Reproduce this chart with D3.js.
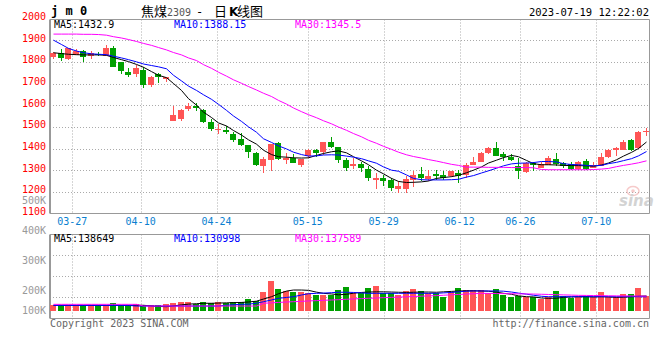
<!DOCTYPE html>
<html><head><meta charset="utf-8">
<script src="https://cdnjs.cloudflare.com/ajax/libs/d3/7.8.5/d3.min.js"></script>
<style>html,body{margin:0;padding:0;background:#fff;} svg{display:block;}</style>
</head><body><svg id="c" width="660" height="360"></svg>
<script>
const dates = ["03-22","03-23","03-24","03-27","03-28","03-29","03-30","03-31","04-03","04-04","04-06","04-07",
"04-10","04-11","04-12","04-13","04-14","04-17","04-18","04-19","04-20","04-21","04-24","04-25","04-26","04-27","04-28",
"05-04","05-05","05-08","05-09","05-10","05-11","05-12","05-15","05-16","05-17","05-18","05-19","05-22","05-23","05-24","05-25","05-26",
"05-29","05-30","05-31","06-01","06-02","06-05","06-06","06-07","06-08","06-09","06-12","06-13","06-14","06-15","06-16","06-19","06-20","06-21",
"06-26","06-27","06-28","06-29","06-30","07-03","07-04","07-05","07-06","07-07","07-10","07-11","07-12","07-13","07-14","07-17","07-18","07-19"];
const open  = [1824,1840,1811,1832,1848,1829,1836,1829,1865,1797,1754,1746,1763,1691,1746,1720,1529,1537,1582,1598,1579,1523,1488,1486,1466,1445,1414,1381,1320,1348,1425,1345,1355,1325,1366,1394,1385,1430,1405,1348,1317,1329,1306,1255,1265,1255,1215,1213,1255,1283,1260,1283,1279,1271,1289,1276,1325,1340,1381,1402,1375,1363,1320,1291,1333,1312,1325,1351,1335,1328,1306,1343,1312,1320,1363,1391,1394,1440,1402,1480];
const high  = [1845,1859,1866,1859,1855,1852,1845,1876,1871,1800,1771,1786,1778,1734,1748,1731,1598,1581,1609,1610,1582,1535,1513,1506,1478,1471,1416,1386,1363,1422,1428,1381,1375,1353,1397,1396,1432,1451,1408,1358,1358,1340,1317,1286,1279,1266,1248,1271,1298,1314,1302,1302,1294,1296,1302,1332,1363,1385,1409,1428,1385,1375,1355,1336,1336,1336,1366,1381,1340,1336,1343,1352,1340,1378,1396,1409,1440,1442,1480,1494];
const low   = [1812,1806,1810,1830,1801,1815,1826,1827,1776,1745,1732,1732,1677,1686,1701,1706,1527,1525,1574,1575,1517,1483,1468,1465,1432,1412,1358,1317,1286,1297,1347,1329,1333,1314,1355,1363,1370,1402,1335,1298,1306,1292,1251,1215,1228,1205,1194,1194,1222,1252,1248,1255,1255,1268,1243,1263,1322,1338,1375,1365,1343,1343,1260,1287,1297,1310,1322,1318,1310,1301,1303,1303,1308,1318,1358,1366,1392,1389,1398,1460];
const close = [1843,1820,1865,1851,1822,1840,1834,1865,1778,1758,1741,1771,1695,1732,1729,1729,1555,1579,1598,1585,1523,1490,1490,1474,1440,1414,1385,1325,1352,1420,1351,1355,1335,1351,1391,1381,1430,1405,1345,1312,1329,1308,1266,1266,1252,1220,1228,1260,1277,1263,1274,1271,1263,1294,1274,1325,1340,1381,1402,1367,1360,1348,1294,1332,1324,1328,1355,1328,1317,1306,1340,1306,1325,1362,1394,1402,1428,1391,1478,1483];
const ma5  = [1842,1838,1835,1833,1832,1832,1832,1830,1820,1810,1801,1788,1775,1755,1738,1727,1700,1668,1630,1600,1568,1543,1518,1504,1483,1462,1440,1420,1392,1372,1362,1360,1357,1356,1357,1368,1377,1385,1389,1380,1362,1343,1325,1300,1283,1262,1248,1243,1244,1246,1250,1262,1266,1270,1276,1288,1300,1315,1333,1346,1358,1368,1362,1345,1330,1325,1325,1324,1322,1321,1321,1320,1318,1324,1333,1348,1365,1382,1400,1430];
const ma10 = [1900,1880,1862,1850,1842,1837,1835,1833,1826,1818,1810,1800,1790,1783,1777,1768,1738,1712,1688,1668,1648,1627,1604,1576,1550,1525,1500,1475,1445,1428,1412,1398,1383,1372,1365,1366,1370,1371,1370,1365,1360,1353,1343,1332,1315,1300,1295,1278,1262,1256,1255,1255,1255,1256,1258,1268,1275,1287,1297,1309,1320,1329,1332,1333,1335,1340,1340,1338,1330,1326,1325,1322,1320,1322,1330,1336,1344,1353,1366,1386];
const ma30 = [1928,1928,1928,1928,1927,1927,1926,1923,1916,1910,1903,1894,1885,1876,1866,1855,1843,1832,1818,1806,1787,1770,1752,1734,1717,1701,1686,1670,1655,1640,1622,1605,1587,1570,1556,1542,1528,1514,1499,1484,1469,1454,1438,1424,1410,1396,1383,1371,1363,1356,1349,1342,1335,1327,1322,1314,1314,1314,1313,1313,1313,1312,1312,1312,1311,1303,1302,1302,1302,1302,1302,1302,1303,1305,1308,1316,1322,1328,1334,1343];
const volume = [54,52,55,54,53,54,52,55,73,56,55,63,55,56,55,60,75,85,85,63,85,73,85,73,85,85,113,91,179,283,205,189,179,179,164,148,148,148,195,224,164,164,214,233,164,164,148,186,205,186,164,170,132,176,214,195,195,195,170,205,148,132,142,132,132,110,132,186,142,123,126,142,126,176,126,126,158,158,214,142].map(v => v * 1000);
const volMa5 = [51,51,51,51,51,51,51,51,51,51,51,51,51,45,40,38,45,55,62,66,70,70,72,74,76,78,82,90,110,132,160,185,195,195,192,175,164,158,150,155,165,172,176,178,178,176,174,172,174,176,176,174,178,182,186,188,188,186,184,175,164,155,140,132,130,120,117,118,126,130,132,132,130,132,130,126,128,132,137,139].map(v => v * 1000);
const volMa10 = [50,50,50,50,50,50,50,50,50,50,50,44,44,44,44,44,44,44,44,44,44,44,44,52,56,60,62,70,85,101,117,125,132,148,160,164,166,170,174,174,172,168,164,164,164,164,164,164,164,164,164,164,168,172,178,184,186,186,186,186,184,176,166,156,146,136,132,132,132,132,132,132,132,132,132,132,132,132,132,131].map(v => v * 1000);
const volMa30 = [60,60,60,60,60,60,60,60,60,60,60,60,44,44,44,44,44,44,44,44,44,44,44,44,44,44,44,44,70,74,78,82,85,88,92,95,98,101,104,108,111,114,117,120,123,126,128,131,134,137,140,142,146,150,153,157,160,164,163,162,161,160,159,158,157,155,153,151,149,147,145,144,143,142,141,140,139,139,138,138].map(v => v * 1000);
const priceTicks = [1100,1200,1300,1400,1500,1600,1700,1800,1900,2000];
const volTicks = [100000,200000,300000,400000,500000];
const dateTicks = ["03-27","04-10","04-24","05-15","05-29","06-12","06-26","07-10"];
const priceLegend = [["MA5",1432.9],["MA10",1388.15],["MA30",1345.5]];
const volLegend = [["MA5",138649],["MA10",130998],["MA30",137589]];

const RED = "#ff5555", GREEN = "#00a000";
const maColors = ["#000000","#0000ff","#ff00ff"];
const mono = "'DejaVu Sans Mono', monospace";
const svg = d3.select("#c");
svg.append("rect").attr("width",660).attr("height",360).attr("fill","#fff");

const L = 50, R = 649.5;
const pTop = 19.5, pBot = 213.5, vTop = 234.5, vBot = 318.5;

const xb = d3.scaleBand().domain(dates).range([49.25, 649.25]).paddingInner(0.2).paddingOuter(0.1);
const xg = d3.scalePoint().domain(dates).range([49.5, 649.5]);
const y = d3.scaleLinear().domain([1100, 2000]).range([pBot, 18.5]);
const yv = d3.scaleLinear().domain([0, 300000]).range([310.7, 278.9]);
const yvLabel = d3.scaleLinear().domain([200000, 500000]).range([290.5, 200.5]);

const bx = d => Math.round(xb(d));
const cx = d => bx(d) + 3;
const px = v => Math.round(v) + 0.5;

// ---- grids
const grid = svg.append("g").attr("stroke","#aaaaaa").attr("stroke-dasharray","1,2").attr("stroke-width",1);
priceTicks.filter(t => t > 1100 && t < 2000).forEach(t => {
  grid.append("line").attr("x1",L).attr("x2",R).attr("y1",px(y(t))).attr("y2",px(y(t)));
});
dateTicks.forEach(d => {
  const gx = px(xg(d));
  grid.append("line").attr("x1",gx).attr("x2",gx).attr("y1",pTop).attr("y2",pBot);
  grid.append("line").attr("x1",gx).attr("x2",gx).attr("y1",vTop).attr("y2",vBot + 3);
});
[0.25,0.5,0.75].forEach(f => {
  const gy = px(vTop + (vBot - vTop) * f - 0.7);
  grid.append("line").attr("x1",L).attr("x2",R).attr("y1",gy).attr("y2",gy);
});

// ---- frames
const frame = svg.append("g").attr("stroke","#999").attr("fill","none");
[[pTop,pBot],[vTop,vBot]].forEach(([t,b]) => {
  frame.append("line").attr("x1",L).attr("x2",R).attr("y1",t).attr("y2",t);
  frame.append("line").attr("x1",L).attr("x2",R).attr("y1",b).attr("y2",b);
  frame.append("line").attr("x1",R).attr("x2",R).attr("y1",t).attr("y2",b);
  frame.append("line").attr("x1",L).attr("x2",L).attr("y1",t).attr("y2",b).attr("stroke-width",2);
});

// ---- sina watermark
const wm = svg.append("g").attr("opacity",0.55);
wm.append("ellipse").attr("cx",633).attr("cy",191).attr("rx",6).attr("ry",4.5).attr("fill","none").attr("stroke","#f0a0a0").attr("stroke-width",1.5);
wm.append("circle").attr("cx",633).attr("cy",191).attr("r",1.8).attr("fill","#f0a0a0");
wm.append("text").attr("x",619).attr("y",206).attr("font-family","'DejaVu Sans', sans-serif").attr("font-size",15).attr("font-weight","bold").attr("font-style","italic").attr("fill","#b0b0b0").text("sina");

// ---- candles
const idx = d3.range(dates.length);
const cg = svg.append("g").attr("shape-rendering","crispEdges");
idx.forEach(i => {
  const up = close[i] >= open[i];
  const col = up ? RED : GREEN;
  const x0 = bx(dates[i]);
  cg.append("line").attr("x1",x0+3.5).attr("x2",x0+3.5).attr("y1",y(high[i])).attr("y2",y(low[i])).attr("stroke",col);
  const top = y(Math.max(open[i],close[i])), bot = y(Math.min(open[i],close[i]));
  cg.append("rect").attr("x",x0).attr("y",top).attr("width",6).attr("height",Math.max(1,bot-top)).attr("fill",col);
});

// ---- MA lines (price)
[ma5, ma10, ma30].forEach((arr, k) => {
  svg.append("path").datum(idx).attr("fill","none").attr("stroke",maColors[k]).attr("stroke-width",1)
    .attr("d", d3.line().x(i => cx(dates[i]) + 0.5).y(i => y(arr[i])));
});

// ---- volume bars
const vg = svg.append("g").attr("shape-rendering","crispEdges");
idx.forEach(i => {
  const col = close[i] >= open[i] ? RED : GREEN;
  const x0 = bx(dates[i]);
  vg.append("rect").attr("x",x0).attr("y",yv(volume[i])).attr("width",6).attr("height",yv(0)-yv(volume[i])).attr("fill",col);
});
[volMa5, volMa10, volMa30].forEach((arr, k) => {
  svg.append("path").datum(idx).attr("fill","none").attr("stroke",maColors[k]).attr("stroke-width",1)
    .attr("d", d3.line().x(i => cx(dates[i]) + 0.5).y(i => yv(arr[i])));
});

// ---- axis labels
const t = svg.append("g").attr("font-family",mono).attr("font-size",10);
priceTicks.forEach(v => {
  t.append("text").attr("x",46).attr("y",y(v)+1.5).attr("text-anchor","end").attr("fill","#ff0000").text(v);
});
volTicks.forEach(v => {
  const yy = Math.min(yvLabel(v), 310);
  t.append("text").attr("x",46).attr("y",yy+3.5).attr("text-anchor","end").attr("fill","#999").text(d3.format(".0s")(v).replace("k","K"));
});
dateTicks.forEach(d => {
  t.append("text").attr("x",xg(d)).attr("y",225).attr("text-anchor","middle").attr("fill","#0a7fd0").text(d);
});

// ---- legends
const legX = [54, 174, 295];
priceLegend.forEach(([n,v],k) => {
  t.append("text").attr("x",legX[k]).attr("y",27.5).attr("fill",maColors[k]).text(n + ":" + v);
});
volLegend.forEach(([n,v],k) => {
  t.append("text").attr("x",legX[k]).attr("y",242).attr("fill",maColors[k]).text(n + ":" + v);
});

// ---- titles
svg.append("text").attr("x",51).attr("y",15).attr("font-family",mono).attr("font-size",12).attr("font-weight","bold").attr("fill","#000").text("j m 0");
const title = svg.append("text").attr("y",16).attr("font-family","'Noto Sans CJK SC', sans-serif").attr("font-size",13).attr("fill","#000");
title.append("tspan").attr("x",141).text("焦煤");
title.append("tspan").attr("x",167).attr("font-family",mono).attr("font-size",10).attr("fill","#555").text("2309");
title.append("tspan").attr("x",196).attr("font-family",mono).attr("font-size",12).text("-");
title.append("tspan").attr("x",214).text("日");
title.append("tspan").attr("x",229).attr("font-family","'DejaVu Sans', sans-serif").attr("font-size",12).attr("font-weight","bold").text("K");
title.append("tspan").attr("x",237).text("线图");
svg.append("text").attr("x",649).attr("y",16).attr("text-anchor","end").attr("font-family",mono).attr("font-size",10.5).attr("fill","#000").text("2023-07-19 12:22:02");

// ---- footer
svg.append("text").attr("x",50).attr("y",327).attr("font-family",mono).attr("font-size",10).attr("fill","#666").text("Copyright 2023 SINA.COM");
svg.append("text").attr("x",649).attr("y",327).attr("text-anchor","end").attr("font-family",mono).attr("font-size",10).attr("fill","#666").text("http://finance.sina.com.cn");
</script></body></html>
